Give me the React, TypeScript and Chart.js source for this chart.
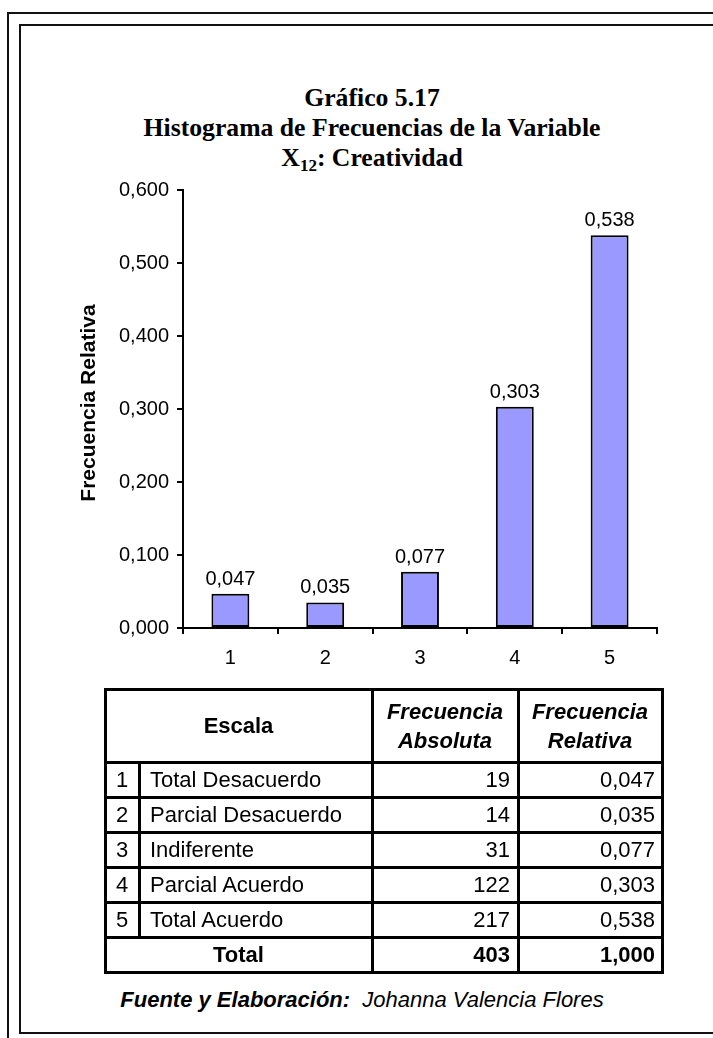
import React, { useEffect, useRef } from 'react';
import { Chart, registerables } from 'chart.js';

Chart.register(...registerables);

// ---- data ----
const categories = ['1', '2', '3', '4', '5'];
const scaleNames = ['Total Desacuerdo', 'Parcial Desacuerdo', 'Indiferente', 'Parcial Acuerdo', 'Total Acuerdo'];
const absoluteFreq = [19, 14, 31, 122, 217];
const relativeFreq = [0.047, 0.035, 0.077, 0.303, 0.538];
const totalAbsolute = 403;
const totalRelative = 1.0;
const yTickValues = [0, 0.1, 0.2, 0.3, 0.4, 0.5, 0.6];

const titleLines = ['Gráfico 5.17', 'Histograma de Frecuencias de la Variable'];
const yAxisTitle = 'Frecuencia Relativa';

const SANS = '"Liberation Sans", Arial, sans-serif';
const SERIF = '"Liberation Serif", "Times New Roman", serif';

const fmt = (v: number) => v.toFixed(3).replace('.', ',');

const valueLabelPlugin = {
  id: 'valueLabels',
  afterDatasetsDraw(chart: any) {
    const ctx = chart.ctx;
    const meta = chart.getDatasetMeta(0);
    ctx.save();
    ctx.font = `20px ${SANS}`;
    ctx.fillStyle = '#000';
    ctx.textAlign = 'center';
    ctx.textBaseline = 'alphabetic';
    meta.data.forEach((el: any, i: number) => {
      ctx.fillText(fmt(relativeFreq[i]), el.x, el.y - 9);
    });
    ctx.restore();
  },
};

const yTitlePlugin = {
  id: 'yTitle',
  afterDraw(chart: any) {
    const ctx = chart.ctx;
    ctx.save();
    ctx.translate(89, 403);
    ctx.rotate(-Math.PI / 2);
    ctx.font = `bold 21px ${SANS}`;
    ctx.fillStyle = '#000';
    ctx.textAlign = 'center';
    ctx.textBaseline = 'middle';
    ctx.fillText(yAxisTitle, 0, 0);
    ctx.restore();
  },
};

function BarChart() {
  const ref = useRef<HTMLCanvasElement | null>(null);
  useEffect(() => {
    if (!ref.current) return;
    const chart = new Chart(ref.current, {
      type: 'bar',
      data: {
        labels: categories,
        datasets: [
          {
            data: relativeFreq,
            backgroundColor: '#9999FF',
            borderColor: '#000000',
            borderWidth: 2,
            borderSkipped: false,
            barPercentage: 0.4,
            categoryPercentage: 1,
          },
        ],
      },
      options: {
        responsive: false,
        animation: false,
        devicePixelRatio: 1,
        layout: { padding: { left: 0, right: 56, top: 190, bottom: 12 } },
        plugins: {
          legend: { display: false },
          tooltip: { enabled: false },
          title: { display: false },
        },
        scales: {
          x: {
            grid: {
              display: true,
              drawOnChartArea: false,
              drawTicks: true,
              tickLength: 6,
              color: '#000',
              lineWidth: 2,
              offset: true,
            },
            border: { display: true, color: '#000', width: 2 },
            ticks: { color: '#000', font: { family: SANS, size: 20 }, padding: 12, maxRotation: 0 },
            afterFit: (s: any) => {
              s.height = 50;
            },
          },
          y: {
            min: 0,
            max: 0.6,
            afterBuildTicks: (s: any) => {
              s.ticks = yTickValues.map((v) => ({ value: v }));
            },
            ticks: {
              color: '#000',
              font: { family: SANS, size: 20 },
              padding: 8,
              callback: (v: any) => fmt(Number(v)),
            },
            grid: { drawOnChartArea: false, drawTicks: true, tickLength: 6, color: '#000', lineWidth: 2 },
            border: { display: true, color: '#000', width: 2 },
            afterFit: (s: any) => {
              s.width = 183;
            },
          },
        },
      } as any,
      plugins: [valueLabelPlugin, yTitlePlugin],
    });
    return () => chart.destroy();
  }, []);
  return (
    <canvas
      ref={ref}
      width={713}
      height={690}
      style={{ position: 'absolute', left: 0, top: 0, width: 713, height: 690 }}
    />
  );
}

const colX = [105, 139, 372, 518, 662];
const rowY = [689, 762, 797, 832, 867, 902, 937, 972];
const LW = 3;

function HLine({ x1, x2, y }: { x1: number; x2: number; y: number }) {
  return (
    <div
      style={{ position: 'absolute', left: x1 - LW / 2, top: y - LW / 2, width: x2 - x1 + LW, height: LW, background: '#000' }}
    />
  );
}
function VLine({ x, y1, y2 }: { x: number; y1: number; y2: number }) {
  return (
    <div
      style={{ position: 'absolute', left: x - LW / 2, top: y1 - LW / 2, width: LW, height: y2 - y1 + LW, background: '#000' }}
    />
  );
}

function Cell({
  x1,
  x2,
  y1,
  y2,
  align,
  pad,
  children,
  style,
}: {
  x1: number;
  x2: number;
  y1: number;
  y2: number;
  align: 'left' | 'right' | 'center';
  pad?: number;
  children: React.ReactNode;
  style?: React.CSSProperties;
}) {
  const p = pad ?? 0;
  return (
    <div
      style={{
        position: 'absolute',
        left: x1 + (align === 'left' ? p : 0),
        width: x2 - x1 - (align === 'center' ? 0 : p),
        top: y1,
        height: y2 - y1,
        display: 'flex',
        flexDirection: 'column',
        justifyContent: 'center',
        alignItems: align === 'left' ? 'flex-start' : align === 'right' ? 'flex-end' : 'center',
        fontFamily: SANS,
        fontSize: 22,
        lineHeight: '29px',
        color: '#000',
        whiteSpace: 'nowrap',
        ...style,
      }}
    >
      {children}
    </div>
  );
}

function DataTable() {
  const els: React.ReactNode[] = [];
  rowY.forEach((y, i) => els.push(<HLine key={'h' + i} x1={colX[0]} x2={colX[4]} y={y} />));
  els.push(<VLine key="v0" x={colX[0]} y1={rowY[0]} y2={rowY[7]} />);
  els.push(<VLine key="v1" x={colX[1]} y1={rowY[1]} y2={rowY[6]} />);
  els.push(<VLine key="v2" x={colX[2]} y1={rowY[0]} y2={rowY[7]} />);
  els.push(<VLine key="v3" x={colX[3]} y1={rowY[0]} y2={rowY[7]} />);
  els.push(<VLine key="v4" x={colX[4]} y1={rowY[0]} y2={rowY[7]} />);

  els.push(
    <Cell key="hs" x1={colX[0]} x2={colX[2]} y1={rowY[0]} y2={rowY[1]} align="center" style={{ fontWeight: 'bold' }}>
      Escala
    </Cell>
  );
  els.push(
    <Cell key="ha" x1={colX[2]} x2={colX[3]} y1={rowY[0]} y2={rowY[1]} align="center" style={{ fontWeight: 'bold', fontStyle: 'italic' }}>
      <div>Frecuencia</div>
      <div>Absoluta</div>
    </Cell>
  );
  els.push(
    <Cell key="hr" x1={colX[3]} x2={colX[4]} y1={rowY[0]} y2={rowY[1]} align="center" style={{ fontWeight: 'bold', fontStyle: 'italic' }}>
      <div>Frecuencia</div>
      <div>Relativa</div>
    </Cell>
  );
  categories.forEach((c, i) => {
    const y1 = rowY[i + 1];
    const y2 = rowY[i + 2];
    els.push(
      <Cell key={'n' + i} x1={colX[0]} x2={colX[1]} y1={y1} y2={y2} align="center">
        {c}
      </Cell>
    );
    els.push(
      <Cell key={'s' + i} x1={colX[1]} x2={colX[2]} y1={y1} y2={y2} align="left" pad={11}>
        {scaleNames[i]}
      </Cell>
    );
    els.push(
      <Cell key={'a' + i} x1={colX[2]} x2={colX[3]} y1={y1} y2={y2} align="right" pad={8}>
        {String(absoluteFreq[i])}
      </Cell>
    );
    els.push(
      <Cell key={'r' + i} x1={colX[3]} x2={colX[4]} y1={y1} y2={y2} align="right" pad={7}>
        {fmt(relativeFreq[i])}
      </Cell>
    );
  });
  els.push(
    <Cell key="tl" x1={colX[0]} x2={colX[2]} y1={rowY[6]} y2={rowY[7]} align="center" style={{ fontWeight: 'bold' }}>
      Total
    </Cell>
  );
  els.push(
    <Cell key="ta" x1={colX[2]} x2={colX[3]} y1={rowY[6]} y2={rowY[7]} align="right" pad={8} style={{ fontWeight: 'bold' }}>
      {String(totalAbsolute)}
    </Cell>
  );
  els.push(
    <Cell key="tr" x1={colX[3]} x2={colX[4]} y1={rowY[6]} y2={rowY[7]} align="right" pad={7} style={{ fontWeight: 'bold' }}>
      {fmt(totalRelative)}
    </Cell>
  );
  return <>{els}</>;
}

export default function App() {
  return (
    <div style={{ position: 'absolute', left: 0, top: 0, width: 713, height: 1038, overflow: 'hidden', background: '#fff' }}>
      {/* double frame */}
      <div
        style={{
          position: 'absolute',
          left: 7,
          top: 12,
          width: 760,
          height: 1100,
          border: '2px solid #111',
          boxSizing: 'border-box',
        }}
      />
      <div
        style={{
          position: 'absolute',
          left: 19,
          top: 24,
          width: 760,
          height: 1034 - 24,
          border: '2px solid #111',
          boxSizing: 'border-box',
        }}
      />
      {/* title */}
      <div
        style={{
          position: 'absolute',
          left: 0,
          width: 744,
          top: 83,
          textAlign: 'center',
          fontFamily: SERIF,
          fontWeight: 'bold',
          fontSize: 25.7,
          lineHeight: '30px',
          color: '#000',
        }}
      >
        <div>{titleLines[0]}</div>
        <div>{titleLines[1]}</div>
        <div>
          X<sub style={{ fontSize: 17, verticalAlign: '-5px', lineHeight: 0 }}>12</sub>: Creatividad
        </div>
      </div>
      <BarChart />
      <DataTable />
      {/* source */}
      <div
        style={{
          position: 'absolute',
          left: 0,
          width: 724,
          top: 986,
          textAlign: 'center',
          fontFamily: SANS,
          fontStyle: 'italic',
          fontSize: 22,
          lineHeight: '28px',
          color: '#000',
          whiteSpace: 'nowrap',
        }}
      >
        <span style={{ fontWeight: 'bold' }}>Fuente y Elaboración:</span>
        <span>{'\u00a0 Johanna Valencia Flores'}</span>
      </div>
    </div>
  );
}
